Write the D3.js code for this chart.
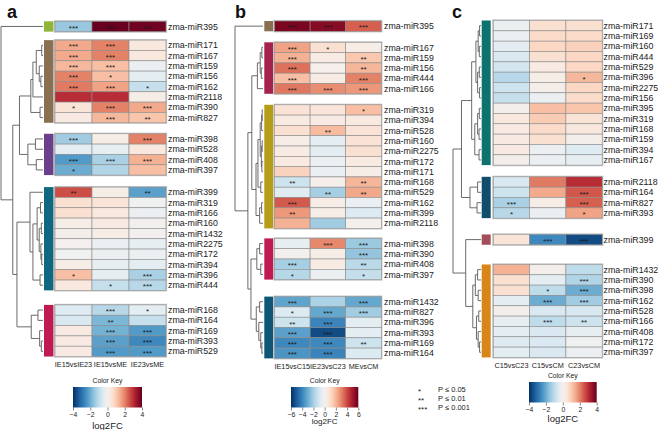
<!DOCTYPE html>
<html>
<head>
<meta charset="utf-8">
<script src="https://cdn.jsdelivr.net/npm/d3@7"></script>
<style>
  body { margin: 0; background: #fff; }
  svg { display: block; font-family: "Liberation Sans", Arial, sans-serif; }
</style>
</head>
<body>
<svg id="chart" width="658" height="430"></svg>
<script>
// ---- panel a ----
var colsA = ["IE15vsIE23", "IE15vsME", "IE23vsME"];
var rowsA = ["zma-miR395", "zma-miR171", "zma-miR167", "zma-miR159", "zma-miR156", "zma-miR162", "zma-miR2118",
  "zma-miR390", "zma-miR827", "zma-miR398", "zma-miR528", "zma-miR408", "zma-miR397", "zma-miR399", "zma-miR319",
  "zma-miR166", "zma-miR160", "zma-miR1432", "zma-miR2275", "zma-miR172", "zma-miR394", "zma-miR396", "zma-miR444",
  "zma-miR168", "zma-miR164", "zma-miR169", "zma-miR393", "zma-miR529"];
var groupSizesA = [1, 8, 4, 10, 5];
var valsA = [[-1.5, 4.0, 3.9], [1.5, 2.0, 0.4], [1.5, 2.0, 0.4], [1.3, 1.2, -0.2], [2.0, 1.2, -0.4], [2.1, 1.6, -0.9],
  [3.0, 3.0, 0.2], [0.5, 2.0, 1.5], [0.3, 1.3, 1.1], [-1.4, 0.2, 2.0], [-0.4, -0.3, 0.4], [-2.3, -1.3, 1.4],
  [-2.0, -1.2, 1.2], [2.6, 0.2, -2.2], [0.6, 0.5, -0.1], [0.6, 0.4, -0.2], [0.2, 0.3, 0.0], [0.1, 0.2, 0.0],
  [0.0, -0.2, -0.3], [-0.1, -0.2, -0.2], [0.2, -0.3, -0.4], [1.2, -0.3, -1.3], [0.4, -0.9, -1.1], [-0.5, -1.1, -0.4],
  [-0.6, -1.8, -0.9], [0.3, -1.9, -2.3], [0.3, -2.2, -2.6], [0.3, -2.3, -2.3]];
// number of stars per cell (0 = not significant)
var starsA = ["333", "330", "330", "330", "310", "331", "000", "133", "032", "303", "000", "333", "100", "202", "000",
  "000", "000", "000", "000", "000", "000", "103", "013", "031", "020", "033", "033", "033"];
var treeA = [10, "395", [7.2,
  [5.6,
    [2.9, [2.4, [1.6, [0.3, "171", "167"], [0.9, "159", [0.5, "156", "162"]]], "2118"], [0.7, "390", "827"]],
    [3.6, [1.8, "398", "528"], [1.6, "408", "397"]]],
  [6.2,
    [3.1, "399", [2.4, [1.4, [0.6, "319", "166"], [0.9, [0.4, "160", "1432"], [0.5, "2275", [0.3, "172", "394"]]]], [0.7, "396", "444"]]],
    [2.8, [1.2, "168", "164"], [0.8, "169", [0.4, "393", "529"]]]]]];
var stripA = ["#8fb43a", "#8a7052", "#6a3f8c", "#10677f", "#c01a52"];
var keyTicksA = [-4, -2, 0, 2, 4];

// ---- panel b ----
var colsB = ["IE15vsC15", "IE23vsC23", "MEvsCM"];
var rowsB = ["zma-miR395", "zma-miR167", "zma-miR159", "zma-miR156", "zma-miR444", "zma-miR166", "zma-miR319",
  "zma-miR394", "zma-miR528", "zma-miR160", "zma-miR2275", "zma-miR172", "zma-miR171", "zma-miR168", "zma-miR529",
  "zma-miR162", "zma-miR399", "zma-miR2118", "zma-miR398", "zma-miR390", "zma-miR408", "zma-miR397", "zma-miR1432",
  "zma-miR827", "zma-miR396", "zma-miR393", "zma-miR169", "zma-miR164"];
var groupSizesB = [1, 5, 12, 4, 6];
var valsB = [[5.7, 5.5, 3.6], [2.4, 0.9, 0.3], [2.1, 0.4, 1.6], [3.3, 0.2, 2.0], [1.8, 0.4, 3.0], [3.2, 2.8, 2.6],
  [0.8, 0.7, 1.8], [0.4, 0.4, 0.5], [0.9, 1.9, 0.8], [0.3, -0.6, 0.8], [0.4, -0.6, 0.9], [0.5, -0.3, 0.5],
  [1.3, -0.4, 0.3], [-1.2, 0.2, 2.0], [-0.7, -2.0, 2.3], [3.7, 0.3, -0.4], [2.6, 0.3, -0.8], [2.1, -2.1, 0.1],
  [-0.5, 2.9, -2.2], [0.1, 0.3, -2.3], [-2.0, 0.4, -1.6], [-1.7, -0.3, -1.4], [-3.2, -1.9, -3.1], [-0.8, -3.1, -2.1],
  [-1.2, -4.0, -0.6], [-3.3, -5.4, -0.6], [-3.9, -3.9, -1.2], [-3.6, -4.0, -0.8]];
var starsB = ["333", "310", "302", "302", "303", "333", "001", "000", "020", "000", "000", "000", "000", "202", "022",
  "300", "200", "000", "033", "003", "302", "101", "303", "133", "230", "330", "332", "330"];
var treeB = [10, "395", [5.4,
  [4.0,
    [2.0, [1.0, [0.4, "167", "159"], [0.6, "156", "444"]], "166"],
    [2.5, [1.8, [1.0, [0.5, [0.3, "319", "394"], "528"], [0.6, [0.3, "160", "2275"], [0.4, "172", "171"]]], [0.8, "168", "529"]],
      [1.2, [0.5, "162", "399"], "2118"]]],
  [4.3,
    [2.2, [1.2, "398", "390"], [0.8, "408", "397"]],
    [2.4, [1.2, "1432", "827"], [1.5, "396", [0.8, "393", [0.4, "169", "164"]]]]]]];
var stripB = ["#8a7052", "#a3234c", "#b59d17", "#bf1a52", "#0e5576"];
var keyTicksB = [-6, -4, -2, 0, 2, 4, 6];

// ---- panel c ----
var colsC = ["C15vsC23", "C15vsCM", "C23vsCM"];
var rowsC = ["zma-miR171", "zma-miR169", "zma-miR160", "zma-miR444", "zma-miR529", "zma-miR396", "zma-miR2275",
  "zma-miR156", "zma-miR395", "zma-miR319", "zma-miR168", "zma-miR159", "zma-miR394", "zma-miR167", "zma-miR2118",
  "zma-miR164", "zma-miR827", "zma-miR393", "zma-miR399", "zma-miR1432", "zma-miR390", "zma-miR398", "zma-miR162",
  "zma-miR528", "zma-miR166", "zma-miR408", "zma-miR172", "zma-miR397"];
var groupSizesC = [14, 4, 1, 9];
var valsC = [[-0.2, 0.6, 0.6], [-0.2, 0.7, 0.7], [-0.4, 0.8, 0.9], [-0.6, 0.6, 0.8], [-0.7, 0.3, 0.8], [-1.1, 0.2, 1.3],
  [-0.8, 0.1, 0.8], [-0.9, -0.2, 0.7], [0.1, 1.2, 1.1], [0.4, 1.0, 0.5], [0.3, 0.7, 0.4], [0.3, 0.6, 0.1],
  [0.3, -0.2, -0.5], [0.1, -0.2, -0.3], [-0.6, 2.1, 3.0], [-0.8, 1.5, 2.5], [-1.3, 0.2, 2.4], [-1.1, -0.2, 1.6],
  [0.5, -2.6, -3.6], [1.4, 0.1, -1.0], [0.6, -0.4, -1.2], [0.6, -1.0, -2.0], [-0.4, -2.0, -1.4], [0.1, -0.6, -0.6],
  [-0.3, -1.0, -0.8], [-0.4, -0.6, -0.3], [-0.5, -0.6, -0.1], [-0.4, -0.6, -0.2]];
var starsC = ["000", "000", "000", "000", "000", "001", "000", "000", "000", "000", "000", "000", "000", "000", "000",
  "003", "303", "101", "033", "000", "003", "013", "033", "000", "032", "000", "000", "000"];
var treeC = [9.9,
  [6.9,
    [3.3, [1.8, [1.0, [0.5, "171", "169"], [0.6, "160", "444"]], [1.2, [0.6, "529", "396"], [0.5, "2275", "156"]]],
      [2.2, [1.2, [0.6, "395", "319"], [0.7, "168", "159"]], [0.7, "394", "167"]]],
    [3.9, [1.2, "2118", "164"], [1.4, "827", "393"]]],
  [5.4, "399",
    [2.9, [2.0, [1.2, "1432", "390"], [1.0, "398", "162"]], [1.6, [0.8, "528", "166"], [1.0, "408", [0.5, "172", "397"]]]]]];
var stripC = ["#0e726e", "#104d6d", "#a34f5a", "#d8861a"];
var keyTicksC = [-4, -2, 0, 2, 4];

var legendStars = ["*", "**", "***"];
var legendText = ["P \u2264 0.05", "P \u2264 0.01", "P \u2264 0.001"];

var svg = d3.select("#chart");
var gradId = 0;

var drawPanel = function(p) {
    var g = svg.append("g");
    var rowH = p.rowH;

    // rows: band scale plus the gap that comes before each group
    var yBand = d3.scaleBand().domain(p.rows).range([p.top, p.top + p.rows.length * rowH]);
    var offs = [], acc = 0;
    p.sizes.forEach(function(n, gi) {
        for (var i = 0; i < n; i++) { offs.push(acc); }
        acc += p.gaps[gi] || 0;
    });
    var yOf = function(i) { return yBand(p.rows[i]) + offs[i]; };
    var x = d3.scaleBand().domain(p.cols).range([p.x0, p.x0 + p.cols.length * p.cellW]);
    var color = d3.scaleDiverging(d3.interpolateRdBu).domain([p.max, 0, -p.max]).clamp(true);

    // group blocks: strip + outer frame
    var start = 0;
    p.sizes.forEach(function(n, gi) {
        var y0 = yOf(start), h = n * rowH;
        g.append("rect").attr("x", p.stripX).attr("y", y0).attr("width", p.stripW).attr("height", h)
            .attr("fill", p.strip[gi]);
        g.append("rect").attr("x", p.x0 - 0.5).attr("y", y0 - 0.5)
            .attr("width", p.cols.length * p.cellW + 1).attr("height", h + 1)
            .attr("fill", "none").attr("stroke", "#c4c4c4").attr("stroke-width", 1.2);
        start += n;
    });

    // cells
    p.rows.forEach(function(r, i) {
        p.cols.forEach(function(c, j) {
            g.append("rect").attr("x", x(c)).attr("y", yOf(i)).attr("width", x.bandwidth()).attr("height", rowH)
                .attr("fill", color(p.vals[i][j])).attr("stroke", "#8c8c8c").attr("stroke-width", 0.6);
            var k = +p.stars[i][j];
            if (k > 0) {
                g.append("text").attr("x", x(c) + x.bandwidth() / 2).attr("y", yOf(i) + rowH / 2 + 4.2)
                    .attr("text-anchor", "middle").attr("font-size", 8).attr("fill", "#1a1a1a")
                    .text("***".slice(0, k));
            }
        });
        g.append("text").attr("x", p.labelX).attr("y", yOf(i) + rowH / 2).attr("dy", "0.35em")
            .attr("font-size", 8.8).attr("fill", "#222").text(r);
    });

    // column labels
    p.cols.forEach(function(c) {
        g.append("text").attr("x", x(c) + x.bandwidth() / 2).attr("y", p.colLabY).attr("dy", "0.35em")
            .attr("text-anchor", "middle").attr("font-size", 7.3).attr("fill", "#222").text(c);
    });

    // dendrogram
    var hx = d3.scaleLinear().domain([0, p.tree[0]]).range([p.treeRight, p.treeLeft]);
    var leafY = {};
    p.rows.forEach(function(r, i) { leafY[r.replace("zma-miR", "")] = yOf(i) + rowH / 2; });
    var root = d3.hierarchy(p.tree, function(d) { return Array.isArray(d) ? d.slice(1) : null; });
    root.eachAfter(function(n) {
        if (!n.children) { n.px = hx(0); n.py = leafY[n.data]; }
        else { n.px = hx(n.data[0]); n.py = d3.mean(n.children, function(c) { return c.py; }); }
    });
    var path = d3.path();
    root.each(function(n) {
        if (!n.children) return;
        var ext = d3.extent(n.children, function(c) { return c.py; });
        path.moveTo(n.px, ext[0]); path.lineTo(n.px, ext[1]);
        n.children.forEach(function(c) { path.moveTo(n.px, c.py); path.lineTo(c.px, c.py); });
    });
    g.append("path").attr("d", path.toString()).attr("fill", "none").attr("stroke", "#5a5a5a").attr("stroke-width", 0.9);

    // panel letter
    g.append("text").attr("x", p.letterX).attr("y", 18).attr("font-size", 18).attr("font-weight", "bold")
        .attr("fill", "#111").text(p.letter);

    // color key
    var id = "grad" + (gradId++);
    var grad = svg.append("defs").append("linearGradient").attr("id", id);
    d3.range(0, 1.0001, 0.05).forEach(function(t) {
        grad.append("stop").attr("offset", t).attr("stop-color", color(-p.max + 2 * p.max * t));
    });
    var kx = d3.scaleLinear().domain([-p.max, p.max]).range([p.keyX, p.keyX + p.keyW]);
    g.append("rect").attr("x", p.keyX).attr("y", p.keyY).attr("width", p.keyW).attr("height", p.keyH)
        .attr("fill", "url(#" + id + ")");
    g.append("text").attr("x", p.keyX + p.keyW / 2).attr("y", p.keyY - 4).attr("text-anchor", "middle")
        .attr("font-size", 6.8).attr("fill", "#222").text("Color Key");
    var ax = g.append("g").attr("transform", "translate(0," + p.keyY + ")")
        .call(d3.axisBottom(kx).tickValues(p.keyTicks).tickSize(p.keyH + 3).tickPadding(2)
            .tickFormat(function(d) { return d < 0 ? "\u2212" + (-d) : d; }));
    ax.select(".domain").remove();
    ax.selectAll(".tick line").attr("stroke", "#555").attr("stroke-width", 0.7)
        .attr("y1", p.keyH);
    ax.selectAll(".tick text").attr("font-size", 6.8).attr("fill", "#222")
        .attr("font-family", "Liberation Sans, Arial, sans-serif");
    g.append("text").attr("x", p.keyX + p.keyW / 2).attr("y", p.logY).attr("text-anchor", "middle")
        .attr("font-size", p.logSize).attr("fill", "#222").text("log2FC");
};

drawPanel({
    letter: "a", letterX: 7, rows: rowsA, cols: colsA, sizes: groupSizesA, vals: valsA, stars: starsA,
    tree: treeA, strip: stripA, max: 4, keyTicks: keyTicksA,
    top: 21.3, rowH: 10.33, gaps: [8.5, 11, 12, 14.5],
    x0: 55, cellW: 37, stripX: 44, stripW: 9.5, labelX: 168, treeLeft: 1, treeRight: 43, colLabY: 364,
    keyX: 73, keyW: 69, keyY: 387, keyH: 20.5, logY: 428.5, logSize: 9.5
});
drawPanel({
    letter: "b", letterX: 235, rows: rowsB, cols: colsB, sizes: groupSizesB, vals: valsB, stars: starsB,
    tree: treeB, strip: stripB, max: 6, keyTicks: keyTicksB,
    top: 21, rowH: 10.3, gaps: [11, 11, 10, 17],
    x0: 274.5, cellW: 35.6, stripX: 264.3, stripW: 9, labelX: 384, treeLeft: 235, treeRight: 263, colLabY: 366,
    keyX: 291, keyW: 67.3, keyY: 387, keyH: 20.5, logY: 424, logSize: 8
});
drawPanel({
    letter: "c", letterX: 452, rows: rowsC, cols: colsC, sizes: groupSizesC, vals: valsC, stars: starsC,
    tree: treeC, strip: stripC, max: 4, keyTicks: keyTicksC,
    top: 20.5, rowH: 10.33, gaps: [11.7, 16.3, 19.7],
    x0: 493.3, cellW: 36.3, stripX: 481.7, stripW: 9, labelX: 603.5, treeLeft: 453, treeRight: 481, colLabY: 365,
    keyX: 529, keyW: 67.7, keyY: 382, keyH: 20.5, logY: 422, logSize: 9.5
});

// significance legend
var ly = d3.scaleBand().domain(legendText).range([385, 412]);
legendText.forEach(function(t, i) {
    svg.append("text").attr("x", 418).attr("y", ly(t) + ly.bandwidth() / 2 + 4.2).attr("font-size", 8)
        .attr("fill", "#222").text(legendStars[i]);
    svg.append("text").attr("x", 438).attr("y", ly(t) + ly.bandwidth() / 2).attr("dy", "0.35em")
        .attr("font-size", 7.5).attr("fill", "#222").text(t);
});
</script>
</body>
</html>
